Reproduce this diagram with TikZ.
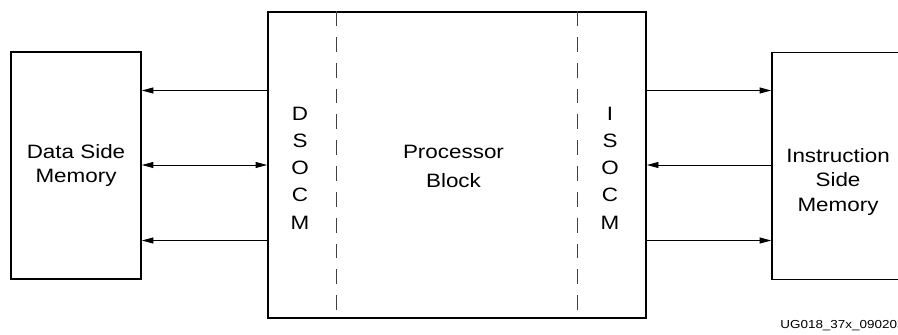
\documentclass[tikz,border=0pt]{standalone}
\usepackage{fontspec}
\setmainfont[FakeStretch=1.16]{Liberation Sans}
\usetikzlibrary{positioning,arrows.meta,calc}

\begin{document}
\begin{tikzpicture}[
  font=\fontsize{11}{14.2}\selectfont,
  mem/.style={draw=black, line width=1pt, minimum width=26mm, minimum height=45.4mm,
              inner sep=0pt},
  blk/.style={draw=black, line width=1.1pt, minimum width=75.6mm, minimum height=61.2mm,
              inner sep=0pt},
  txt/.style={align=center, inner sep=0pt},
  col/.style={txt, font=\fontsize{11}{15.5}\selectfont},
  sep/.style={black!75, line width=0.5pt, dash pattern=on 8.5pt off 6.2pt},
  arr/.style={-{Triangle[length=6.5pt, width=3.4pt]}, line width=0.45pt},
  barr/.style={arr, {Triangle[length=6.5pt, width=3.4pt]}-{Triangle[length=6.5pt, width=3.4pt]}},
  tag/.style={font=\fontsize{6.6}{8}\selectfont, anchor=west, inner sep=0pt}
]
\useasboundingbox (0,0) rectangle (17.96,-6.70);
% ----- blocks -----
\node[mem] (dsm) at (1.52,-3.31) {};
\node[blk] (pb)  at (9.14,-3.30) {};
\node[mem, minimum width=26.4mm] (ism) at (16.76,-3.32) {};
% ----- texts -----
\node[txt] (dsmtxt) at (dsm.center) {Data Side\\Memory};
\node[txt, font=\fontsize{11}{16}\selectfont] (pbtxt) at (9.07,-3.33) {Processor\\Block};
\node[txt] (ismtxt) at (16.76,-3.64) {Instruction\\Side\\Memory};
\node[col] (docm) at (6.00,-3.36) {D\\S\\O\\C\\M};
\node[col] (iocm) at (12.20,-3.36) {I\\S\\O\\C\\M};
% ----- dashed separators -----
\draw[sep] (pb.north west) ++(1.38,0) coordinate (d1) -- (d1 |- pb.south);
\draw[sep] (pb.north east) ++(-1.40,0) coordinate (d2) -- (d2 |- pb.south);
% ----- buses -----
\draw[arr]  ([yshift=14.9mm]pb.west) -- ([yshift=14.9mm]pb.west -| dsm.east);
\draw[barr] (pb.west) -- (pb.west -| dsm.east);
\draw[arr]  ([yshift=-15.1mm]pb.west) -- ([yshift=-15.1mm]pb.west -| dsm.east);
\draw[arr]  ([yshift=14.9mm]pb.east) -- ([yshift=14.9mm]pb.east -| ism.west);
\draw[arr]  (pb.east -| ism.west) -- (pb.east);
\draw[arr]  ([yshift=-15.1mm]pb.east) -- ([yshift=-15.1mm]pb.east -| ism.west);
% ----- figure tag -----
\node[tag] (fig) at (15.60,-6.52) {UG018\_37x\_090203};
\end{tikzpicture}
\end{document}
